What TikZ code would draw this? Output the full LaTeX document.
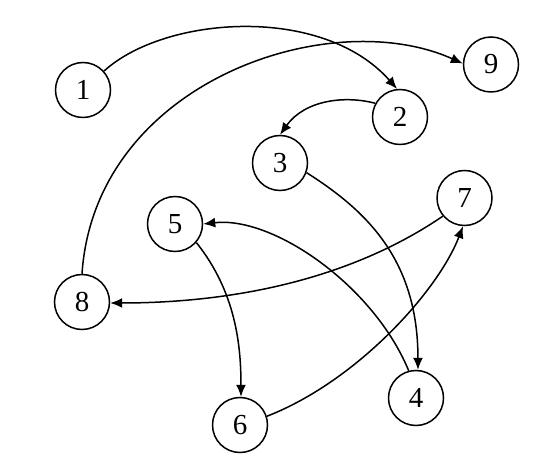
\documentclass[tikz,border=0pt]{standalone}
\usepackage{fontspec}
\setmainfont{Liberation Serif}
\usetikzlibrary{arrows.meta}
\begin{document}
\begin{tikzpicture}[x=1pt,y=1pt,
  vert/.style={circle,draw,line width=1.5pt,minimum size=55pt,inner sep=0pt,font=\fontsize{29}{29}\selectfont},
  edge/.style={line width=1.5pt,-{Latex[length=12pt,width=10pt]}}]
\useasboundingbox (0,0) rectangle (548,463);
\node[vert] (n1) at (83,373) {1};
\node[vert] (n9) at (491,398.5) {9};
\node[vert] (n2) at (400,346) {2};
\node[vert] (n3) at (280,300) {3};
\node[vert] (n7) at (464.5,265) {7};
\node[vert] (n5) at (175,239) {5};
\node[vert] (n8) at (82,161) {8};
\node[vert] (n4) at (416,65) {4};
\node[vert] (n6) at (240,38) {6};
\draw[edge] (n1.42) .. controls +(60,55) and +(-75,85) .. (n2.96);
\draw[edge] (n8.90) .. controls +(13,192) and +(-133,60) .. (n9.178);
\draw[edge] (n2.151) .. controls +(-30,8) and +(25,35) .. (n3.90);
\draw[edge] (n3.-20) .. controls +(60,-38) and +(0,110) .. (n4.86);
\draw[edge] (n4.105) .. controls +(-35,85) and +(70,8) .. (n5.0);
\draw[edge] (n5.-41) .. controls +(40,-50) and +(0,50) .. (n6.88);
\draw[edge] (n6.18) .. controls +(90,35) and +(-25,-65) .. (n7.267);
\draw[edge] (n7.220) .. controls +(-110,-75) and +(90,0) .. (n8.-2);
\end{tikzpicture}
\end{document}
